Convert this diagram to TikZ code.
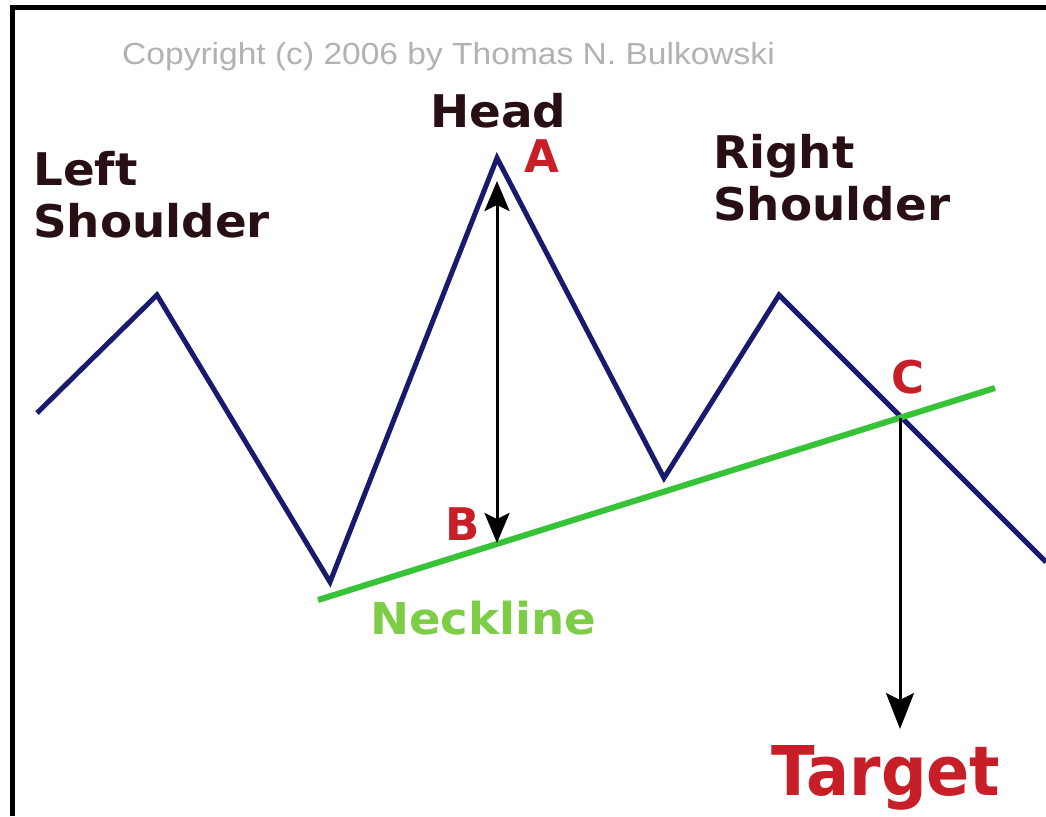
\documentclass[tikz,border=0pt]{standalone}
\usepackage{fontspec}
\setmainfont{DejaVu Sans}
\newfontfamily\labfont{DejaVu Sans}
\newfontfamily\copyfont{Liberation Sans}
\usetikzlibrary{arrows.meta}
\definecolor{pricec}{RGB}{25,25,110}
\definecolor{neckc}{RGB}{55,195,55}
\definecolor{necktext}{RGB}{125,205,70}
\definecolor{labred}{RGB}{200,30,40}
\definecolor{labdark}{RGB}{40,15,20}
\definecolor{copyc}{RGB}{178,178,178}
\tikzset{
  lab/.style={inner sep=0pt, anchor=base west, font=\labfont\bfseries\fontsize{45}{52}\selectfont, text=labdark, align=left, xscale=1.04},
  letter/.style={inner sep=0pt, anchor=base west, font=\labfont\bfseries\fontsize{45}{52}\selectfont, text=labred},
  price/.style={draw=pricec, line width=5pt, line join=miter},
  neck/.style={draw=neckc, line width=6pt},
  measure/.style={draw=black, line width=3pt},
}
\begin{document}
\begin{tikzpicture}[x=1pt,y=-1pt]
\useasboundingbox (0,0) rectangle (1046,816);
\fill[white] (0,0) rectangle (1046,816);
% frame
\draw[line width=5pt] (12.5,816) -- (12.5,7.5) -- (1046,7.5);
% copyright
\node[inner sep=0pt, anchor=base west, font=\copyfont\fontsize{30.5}{36}\selectfont, text=copyc, xscale=1.1] (copy) at (122,65) {Copyright (c) 2006 by Thomas N. Bulkowski};
% price path
\coordinate (p0) at (37,413);
\coordinate (p1) at (157,295);
\coordinate (p2) at (330,582);
\coordinate (p3) at (497,158);
\coordinate (p4) at (664,478);
\coordinate (p5) at (779,295);
\coordinate (p6) at (1046,562);
\draw[price] (p0) -- (p1) -- (p2) -- (p3) -- (p4) -- (p5) -- (p6);
% neckline
\coordinate (n1) at (318,600);
\coordinate (n2) at (995,388);
\draw[neck] (n1) -- (n2);
% measure arrows
\coordinate (ht) at (497,181);
\coordinate (nb) at (497,543);
\draw[measure, {Stealth[length=30pt,width=25pt,inset=6pt]}-{Stealth[length=30pt,width=25pt,inset=6pt]}] (ht) -- (nb);
\coordinate (nc) at (900,418);
\coordinate (tg) at (900,729);
\draw[measure, -{Stealth[length=36pt,width=28pt,inset=7pt]}] (nc) -- (tg);
% labels
\node[lab] (head) at (430,127) {Head};
\node[lab] (ls) at (33,237) {Left\\Shoulder};
\node[lab] (rs) at (713,220) {Right\\Shoulder};
\node[letter] (la) at (524,172) {A};
\node[letter] (lb) at (445,540) {B};
\node[letter] (lc) at (891,393) {C};
\node[inner sep=0pt, anchor=base west, font=\labfont\bfseries\fontsize{44}{50}\selectfont, text=necktext, xscale=1.06] (nl) at (370,634) {Neckline};
\node[inner sep=0pt, anchor=base west, font=\labfont\bfseries\fontsize{68.6}{80}\selectfont, text=labred, xscale=0.93] (tt) at (771,795) {Target};
\end{tikzpicture}
\end{document}
